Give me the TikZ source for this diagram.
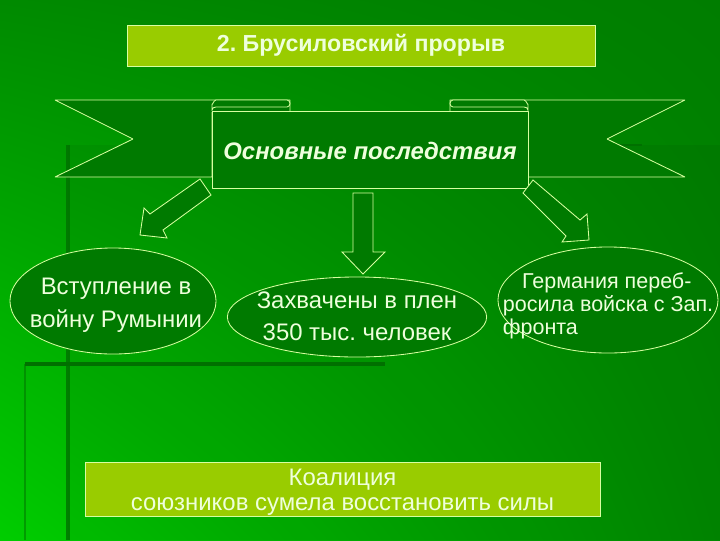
\documentclass[tikz,border=0pt]{standalone}
\usepackage{fontspec}
\setmainfont{Liberation Sans}
\frenchspacing
\usetikzlibrary{shapes.geometric,shadings}
\definecolor{bgdark}{RGB}{0,125,0}
\definecolor{bgmid}{RGB}{0,138,0}
\definecolor{bglight}{RGB}{0,205,0}
\definecolor{ribbonfill}{RGB}{0,122,0}
\definecolor{ovalfill}{RGB}{0,122,0}
\definecolor{boxfill}{RGB}{153,204,0}
\definecolor{lineclr}{RGB}{215,255,160}
\definecolor{textclr}{RGB}{238,255,220}
\definecolor{stripe}{RGB}{0,112,0}
\begin{document}
\begin{tikzpicture}[x=0.025cm,y=-0.025cm,
    outline/.style={draw=lineclr,line width=0.6pt},
    ribbon/.style={outline,fill=ribbonfill,line join=bevel},
    blockarrow/.style={outline,fill=ribbonfill,line join=miter},
    oval/.style={ellipse,outline,fill=ovalfill,inner sep=0pt},
    ovaltext/.style={text=textclr,align=center,font=\fontsize{17}{23.5}\selectfont},
    banner/.style={rectangle,draw=lineclr,line width=0.5pt,fill=boxfill,
      text=textclr,align=center}]
    % background
    \shade[upper left=bgmid,upper right=bgdark,lower left=bglight,lower right=bgmid]
      (0,0) rectangle (720,540);
    \useasboundingbox (0,0) rectangle (720,540);
    \fill[black,opacity=0.05] (68,145) rectangle (720,540);
    \draw[stripe,line width=3.5pt,opacity=0.8] (68,145) -- (68,540);
    \draw[stripe,line width=3pt] (25,364) -- (385,364);
    \draw[stripe,line width=2pt,opacity=0.5] (25,364) -- (25,540);
    \draw[stripe,line width=2pt] (615,145) -- (642,145);
    % title
    \node[banner,minimum width=11.7cm,minimum height=1.025cm,
      font=\fontsize{16.5}{18}\selectfont\bfseries] (title) at (361,45.5) {2. Брусиловский прорыв};
    % ribbon tails
    \draw[ribbon] (290,112) -- (290,100) -- (55,100) -- (133,139) -- (55,177) -- (212,177) -- (212,112);
    \draw[ribbon] (450,112) -- (450,100) -- (685,100) -- (607,139) -- (685,177) -- (528,177) -- (528,112);
    % folds
    \draw[ribbon] (212,111) -- (212,104) to[out=-90,in=180] (216,100) -- (287,100)
      to[out=0,in=90] (290,103.5) to[out=-90,in=0] (287,107) -- (216,107) to[out=180,in=90] (212,110);
    \draw[ribbon] (528,111) -- (528,104) to[out=-90,in=0] (524,100) -- (453,100)
      to[out=180,in=90] (450,103.5) to[out=-90,in=180] (453,107) -- (524,107) to[out=0,in=90] (528,110);
    % ribbon panel
    \draw[ribbon] (212,111) rectangle (528,188);
    \node[text=textclr,font=\fontsize{17}{19}\selectfont\bfseries\itshape] (head) at (370,151) {Основные последствия};
    % arrows
    \draw[blockarrow] (200,179) -- (150,214) -- (144,208) -- (140,235) -- (167,238) -- (163,230) -- (211,195) -- cycle;
    \draw[blockarrow] (353,193) -- (373,193) -- (373,252) -- (385,252) -- (363,274) -- (342,252) -- (353,252) -- cycle;
    \draw[blockarrow] (533,180) -- (580,220) -- (587,214) -- (589,240) -- (562,242) -- (566,236) -- (523,193) -- cycle;
    % consequences
    \node[oval,minimum width=5.15cm,minimum height=2.65cm] (romania) at (113,301) {};
    \node[ovaltext] (romaniatext) at (116,305) {Вступление в\\войну Румынии};
    \node[oval,minimum width=6.48cm,minimum height=2.0cm] (captured) at (357,317) {};
    \node[ovaltext,font=\fontsize{17}{22.5}\selectfont] (capturedtext) at (357,316) {Захвачены в плен\\350 тыс. человек};
    \node[oval,minimum width=5.5cm,minimum height=2.65cm] (germany) at (608,300) {};
    \node[ovaltext,align=left,font=\fontsize{15.3}{16.2}\selectfont] (germanytext) at (608,306)
      {\hspace{0.9em}Германия переб-\\росила войска с Зап.\\фронта};
    % bottom
    \node[banner,minimum width=12.875cm,minimum height=1.35cm] (coalition) at (342.5,489) {};
    \node[text=textclr,align=center,font=\fontsize{17}{18}\selectfont] (coalitiontext) at (342.5,492)
      {Коалиция\\союзников сумела восстановить силы};
\end{tikzpicture}
\end{document}
